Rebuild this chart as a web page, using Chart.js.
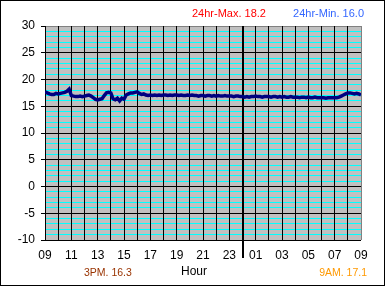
<!DOCTYPE html>
<html>
<head>
<meta charset="utf-8">
<script src="https://cdn.jsdelivr.net/npm/chart.js@4.4.1/dist/chart.umd.min.js"></script>
<style>
  html, body { margin: 0; padding: 0; background: #fff; }
  #wrap { width: 385px; height: 286px; box-sizing: border-box; border: 1px solid #000; }
  canvas { display: block; }
</style>
</head>
<body>
<div id="wrap"><canvas id="chart" width="383" height="284"></canvas></div>
<script>
// hour labels, 09:00 today to 09:00 tomorrow
const hourTicks = ['09','10','11','12','13','14','15','16','17','18','19','20','21','22','23',
                   '00','01','02','03','04','05','06','07','08','09'];
const midnightHour = 15; // offset of 00:00 from 09:00

// temperature every 10 minutes (deg C)
const stepHours = 1 / 6;
const temps = [
  17.7, 17.5, 17.3, 17.2, 17.2, 17.4,   // 09
  17.3, 17.4, 17.5, 17.6, 17.8, 18.2,   // 10
  17.0, 16.9, 16.8, 16.8, 16.9, 16.8,   // 11
  16.9, 17.0, 17.1, 16.9, 16.6, 16.3,   // 12
  16.2, 16.3, 16.4, 17.0, 17.5, 17.6,   // 13
  17.5, 16.4, 16.2, 16.5, 16.0, 16.5,   // 14
  16.3, 17.1, 17.3, 17.5, 17.5, 17.6,   // 15
  17.7, 17.4, 17.2, 17.3, 17.1, 17.0,   // 16
  17.1, 17.0, 17.1, 17.0, 17.1, 17.0,   // 17
  17.1, 17.1, 17.0, 17.1, 17.0, 17.1,   // 18
  17.1, 17.0, 17.1, 17.0, 17.0, 17.1,   // 19
  17.0, 17.1, 17.0, 17.0, 16.9, 17.0,   // 20
  17.0, 16.9, 17.0, 17.0, 16.9, 17.0,   // 21
  16.9, 17.0, 16.9, 16.9, 17.0, 16.9,   // 22
  16.9, 16.9, 16.8, 16.9, 16.9, 16.8,   // 23
  16.8, 16.7, 16.8, 16.7, 16.8, 16.8,   // 00
  16.9, 16.8, 16.8, 16.7, 16.8, 16.8,   // 01
  16.8, 16.7, 16.8, 16.8, 16.7, 16.8,   // 02
  16.7, 16.8, 16.7, 16.7, 16.8, 16.7,   // 03
  16.7, 16.7, 16.6, 16.7, 16.7, 16.6,   // 04
  16.7, 16.6, 16.6, 16.7, 16.6, 16.6,   // 05
  16.6, 16.6, 16.5, 16.6, 16.6, 16.6,   // 06
  16.6, 16.6, 16.7, 16.9, 17.1, 17.3,   // 07
  17.5, 17.5, 17.4, 17.3, 17.4, 17.3,   // 08
  17.1                                  // 09
];

// annotation texts
const maxText = '24hr-Max. 18.2';
const minText = '24hr-Min. 16.0';
const pmText = '3PM. 16.3';
const amText = '9AM. 17.1';
const xTitle = 'Hour';

const FONT = '"Liberation Sans", Arial, sans-serif';

// texts around the plot + the long midnight tick below the axis
const extrasPlugin = {
  id: 'extras',
  afterDraw(chart) {
    const ctx = chart.ctx;
    const area = chart.chartArea;
    const xs = chart.scales.x;
    ctx.save();
    const mx = Math.round(xs.getPixelForValue(midnightHour));
    ctx.strokeStyle = '#000';
    ctx.lineWidth = 2;
    ctx.beginPath();
    ctx.moveTo(mx, area.bottom);
    ctx.lineTo(mx, area.bottom + 18);
    ctx.stroke();

    ctx.textBaseline = 'middle';
    ctx.font = '11px ' + FONT;
    ctx.textAlign = 'left';
    ctx.fillStyle = '#ff0000';
    ctx.fillText(maxText, 191, 13);
    ctx.textAlign = 'right';
    ctx.fillStyle = '#3366ff';
    ctx.fillText(minText, 363, 13);

    ctx.font = '10.5px ' + FONT;
    ctx.textAlign = 'left';
    ctx.fillStyle = '#993300';
    ctx.fillText(pmText, 83, 272);
    ctx.textAlign = 'right';
    ctx.fillStyle = '#ff9900';
    ctx.fillText(amText, 366, 272);

    ctx.font = '12px ' + FONT;
    ctx.textAlign = 'left';
    ctx.fillStyle = '#000';
    ctx.fillText(xTitle, 180, 271);
    ctx.restore();
  }
};

// grey plot background
const backgroundPlugin = {
  id: 'plotBg',
  beforeDraw(chart) {
    const a = chart.chartArea;
    chart.ctx.save();
    chart.ctx.fillStyle = '#c0c0c0';
    chart.ctx.fillRect(a.left, a.top, a.right - a.left, a.bottom - a.top);
    chart.ctx.restore();
  }
};

new Chart(document.getElementById('chart'), {
  type: 'line',
  data: {
    datasets: [{
      data: temps.map((v, i) => ({ x: i * stepHours, y: v })),
      borderColor: '#000080',
      borderWidth: 3.5,
      pointRadius: 0,
      tension: 0,
      fill: false
    }]
  },
  options: {
    responsive: false,
    animation: false,
    events: [],
    layout: { padding: { left: 0, top: 25, right: 23, bottom: 0 } },
    plugins: { legend: { display: false }, title: { display: false }, tooltip: { enabled: false } },
    scales: {
      x: {
        type: 'linear',
        min: 0,
        max: 24,
        afterFit: s => { s.height = 45; },
        border: { display: false },
        grid: {
          z: -1,
          drawTicks: false,
          color: c => c.tick.value === 24 ? '#808080' : '#000',
          lineWidth: c => c.tick.value === midnightHour ? 2 : 1
        },
        ticks: {
          stepSize: 1,
          autoSkip: false,
          maxRotation: 0,
          padding: 8,
          color: '#000',
          font: { family: FONT, size: 12 },
          callback: v => (v % 2 === 0 ? hourTicks[v] : '')
        }
      },
      y: {
        min: -10,
        max: 30,
        afterFit: s => { s.width = 44; },
        border: { display: false },
        grid: {
          z: -2,
          tickLength: 4,
          color: c => c.tick.value === 30 ? '#808080' : (c.tick.value % 5 === 0 ? '#000' : '#00ffff'),
          tickColor: c => (c.tick.value % 5 === 0 ? '#000' : 'rgba(0,0,0,0)'),
          lineWidth: 1
        },
        ticks: {
          stepSize: 1,
          autoSkip: false,
          padding: 6,
          color: '#000',
          font: { family: FONT, size: 12 },
          callback: v => (v % 5 === 0 ? String(v) : '')
        }
      }
    }
  },
  plugins: [backgroundPlugin, extrasPlugin]
});
</script>
</body>
</html>
